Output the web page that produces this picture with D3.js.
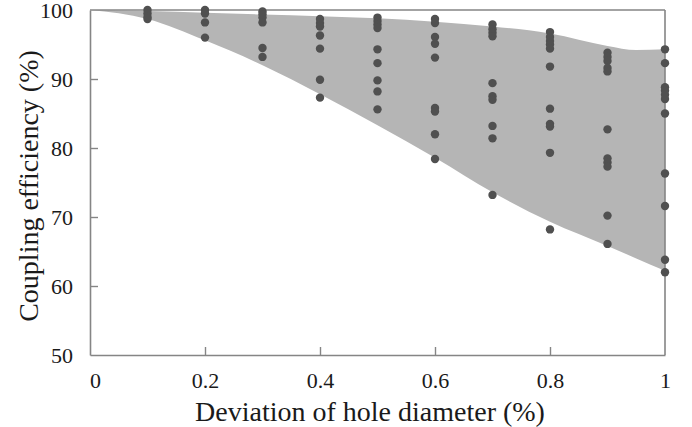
<!DOCTYPE html>
<html><head><meta charset="utf-8">
<script src="https://cdn.jsdelivr.net/npm/d3@7"></script>
<style>body{margin:0;background:#fff}svg{display:block}</style>
</head><body>
<svg id="c" width="692" height="427"></svg>
<script>
// Data
const xTicks = [0, 0.2, 0.4, 0.6, 0.8, 1];
const xTickLabels = ["0", "0.2", "0.4", "0.6", "0.8", "1"];
const yTicks = [50, 60, 70, 80, 90, 100];
const deviations = [0.1, 0.2, 0.3, 0.4, 0.5, 0.6, 0.7, 0.8, 0.9, 1.0];
const eff01 = [100.0, 99.5, 99.0, 98.7];
const eff02 = [100.0, 99.5, 98.2, 96.0];
const eff03 = [99.8, 99.4, 98.9, 98.2, 94.5, 93.2];
const eff04 = [98.7, 98.1, 97.6, 96.3, 94.4, 89.9, 87.3];
const eff05 = [98.9, 98.4, 97.9, 97.4, 94.3, 92.3, 89.8, 88.2, 85.6];
const eff06 = [98.7, 98.1, 96.1, 95.1, 93.1, 85.8, 85.3, 82.0, 78.4];
const eff07 = [97.9, 97.2, 96.7, 96.2, 89.4, 87.5, 87.0, 83.2, 81.4, 73.2];
const eff08 = [96.8, 96.1, 95.5, 95.0, 94.4, 91.8, 85.7, 83.5, 83.1, 79.3, 68.2];
const eff09 = [93.8, 93.2, 92.6, 91.6, 91.1, 82.7, 78.5, 77.9, 77.3, 70.2, 66.1];
const eff10 = [94.3, 92.3, 88.8, 88.3, 87.7, 87.1, 85.0, 76.3, 71.6, 63.8, 62.0];
const efficiencies = [eff01, eff02, eff03, eff04, eff05, eff06, eff07, eff08, eff09, eff10];
const bandX = [0, 0.1, 0.2, 0.3, 0.4, 0.5, 0.6, 0.7, 0.8, 0.9, 0.95, 1.0];
const bandUpper = [100, 99.85, 99.6, 99.35, 99.1, 98.8, 98.3, 97.6, 96.6, 94.8, 94.2, 94.3];
const bandLower = [100, 98.7, 95.6, 92.0, 87.8, 83.3, 78.6, 73.6, 69.3, 65.8, 64.0, 62.2];

const svg = d3.select("#c");
const L = 90, R = 665, T = 10, B = 355;
const x = d3.scaleLinear().domain([0, 1]).range([L, R]);
const y = d3.scaleLinear().domain([50, 100]).range([B, T]);
const axisColor = "#858585";
const font = "'Liberation Serif','Times New Roman',serif";

// band
const band = bandX.map((v, i) => ({x: v, u: bandUpper[i], l: bandLower[i]}));
svg.append("path")
  .datum(band)
  .attr("fill", "#b5b5b5")
  .attr("d", d3.area().curve(d3.curveMonotoneX)
    .x(d => x(d.x)).y0(d => y(d.l)).y1(d => y(d.u)));

// frame (top and right)
svg.append("line").attr("x1", L).attr("x2", R).attr("y1", T).attr("y2", T)
  .attr("stroke", axisColor).attr("stroke-width", 1.6);
svg.append("line").attr("x1", R).attr("x2", R).attr("y1", T).attr("y2", B)
  .attr("stroke", axisColor).attr("stroke-width", 1.6);

// axes
const xAxis = d3.axisBottom(x).tickValues(xTicks).tickSizeInner(-8).tickSizeOuter(0)
  .tickPadding(17).tickFormat((d, i) => xTickLabels[i]);
const gx = svg.append("g").attr("transform", `translate(0,${B})`).call(xAxis);
const yAxis = d3.axisLeft(y).tickValues(yTicks).tickSizeInner(-8).tickSizeOuter(0)
  .tickPadding(17);
const gy = svg.append("g").attr("transform", `translate(${L},0)`).call(yAxis);
[gx, gy].forEach(g => {
  g.select(".domain").attr("stroke", axisColor).attr("stroke-width", 1.6);
  g.selectAll(".tick line").attr("stroke", axisColor).attr("stroke-width", 1.4);
  g.selectAll(".tick text").attr("fill", "#1a1a1a").attr("font-family", font).attr("font-size", 22);
});
gx.selectAll(".tick").filter(d => d === 0 || d === 1).select("line").remove();
gx.selectAll(".tick").filter(d => d === 0).select("text").attr("dx", 5);
gy.selectAll(".tick").filter(d => d === 50 || d === 100).select("line").remove();

// points
const pts = [];
deviations.forEach((dv, i) => efficiencies[i].forEach(e => pts.push({x: dv, y: e})));
svg.append("g").selectAll("circle").data(pts).join("circle")
  .attr("cx", d => x(d.x)).attr("cy", d => y(d.y)).attr("r", 4.2)
  .attr("fill", "#505050");

// titles
svg.append("text").attr("x", 370).attr("y", 421).attr("text-anchor", "middle")
  .attr("font-family", font).attr("font-size", 28).attr("fill", "#1a1a1a")
  .text("Deviation of hole diameter (%)");
svg.append("text").attr("transform", "translate(38,186) rotate(-90)")
  .attr("text-anchor", "middle")
  .attr("font-family", font).attr("font-size", 28).attr("fill", "#1a1a1a")
  .text("Coupling efficiency (%)");
</script>
</body></html>
